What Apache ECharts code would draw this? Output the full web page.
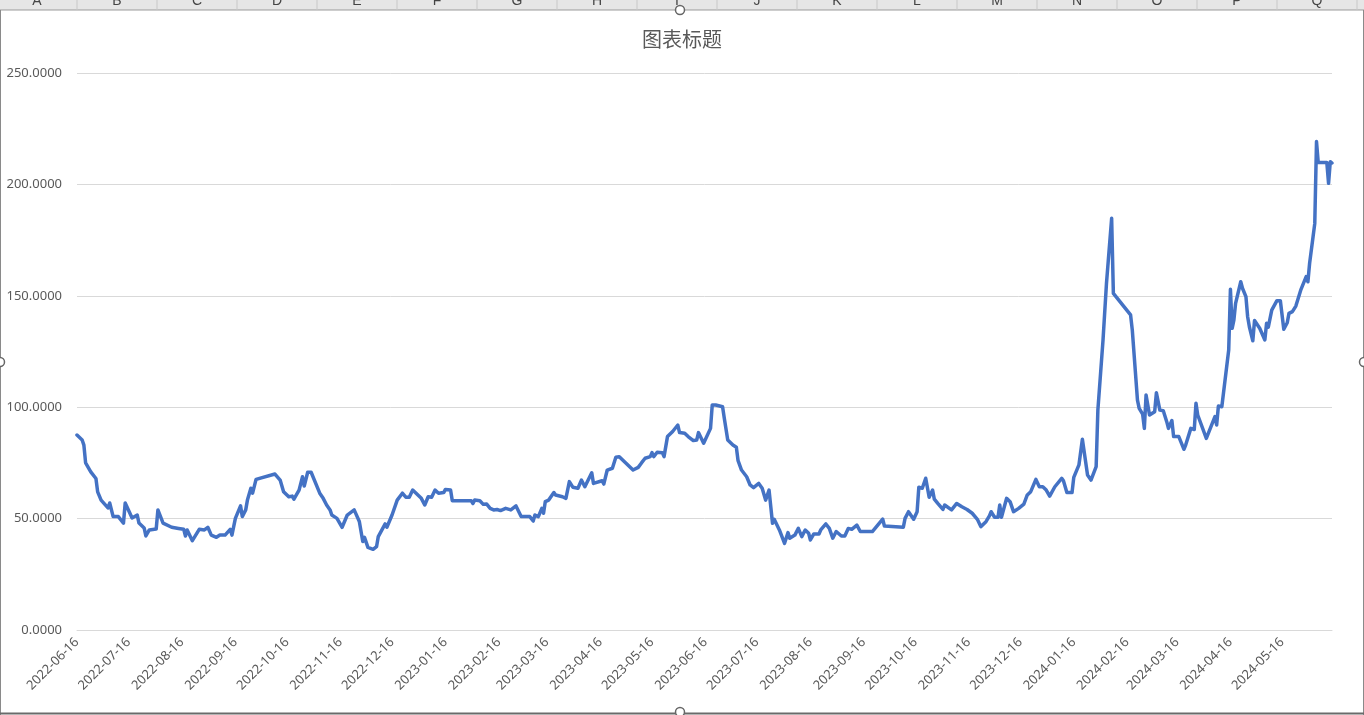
<!DOCTYPE html>
<html>
<head>
<meta charset="utf-8">
<script src="https://cdn.jsdelivr.net/npm/echarts@6/dist/echarts.min.js"></script>
<style>
html,body{margin:0;padding:0;background:#fff;}
#chart{width:1364px;height:715px;}
</style>
</head>
<body>
<div id="chart"></div>
<script>
// ---- data ----
const startDate = '2022-06-16';
// trading-day positions, counted in days from startDate
const dayOffsets = [0,3,4,5,8,11,12,14,18,19,21,24,27,28,32,35,36,39,40,42,46,47,50,55,59,62,63,64,67,71,74,76,78,81,83,86,89,90,92,95,96,98,99,101,102,104,115,118,120,123,125,126,129,131,132,134,136,141,143,145,147,148,151,154,157,161,164,166,167,169,172,174,175,179,180,183,186,189,191,193,195,200,202,204,206,208,210,213,214,217,218,229,230,231,234,236,238,240,242,244,246,249,252,255,258,263,265,266,268,270,271,272,274,277,278,282,284,286,288,291,293,295,299,300,305,306,308,311,313,315,323,326,328,330,333,334,335,337,340,341,343,346,349,350,353,355,358,360,361,364,365,368,369,371,375,376,378,381,383,384,386,389,391,393,396,398,400,402,404,405,408,411,413,414,417,419,421,423,425,426,428,431,432,435,437,439,441,444,446,448,450,453,455,462,468,469,480,481,483,486,488,489,491,493,495,497,498,500,503,504,508,511,514,517,520,523,525,528,530,531,533,535,536,537,540,542,544,547,550,552,554,557,559,561,563,565,568,572,573,575,578,579,582,584,585,587,589,592,593,596,598,599,600,601,602,612,613,616,617,619,620,621,623,626,627,629,631,633,634,636,637,640,643,644,647,649,650,651,656,661,662,663,665,669,670,671,672,673,676,677,679,680,681,683,684,687,690,691,692,694,697,699,701,703,704,706,708,711,714,715,716,718,719,720,721,726,727,728,729];
const seriesValues = [87.5,85.3,83,75,71,68,62,58.3,54.8,57,50.9,50.9,48,57,50.3,51.6,48,45.8,42.2,44.9,45.3,53.9,48,46.1,45.6,45.2,42.2,44.9,40.1,45.2,44.9,46.1,42.6,41.6,42.6,42.6,45.2,42.6,50.1,55.7,50.9,53.9,58.3,63.6,61.4,67.6,70,67.3,62.1,59.8,60.1,58.7,62.8,68.8,64.6,70.8,70.8,61.4,59.1,56.1,53.9,51.6,50.1,46.1,51.6,53.9,48.7,39.7,41.6,37.1,36.2,37.4,41.9,47.6,46.1,51.6,58.3,61.4,59.6,59.6,62.8,59.1,56.1,59.8,59.6,62.8,61.4,61.7,63.1,62.8,58,58,56.8,58.3,58,56.4,56.5,54.6,53.9,54.1,53.6,54.6,53.9,55.7,50.9,50.9,48.9,51.6,50.9,54.6,52.4,57.6,58.3,61.7,60.6,59.8,59.1,66.6,64.1,63.6,67.3,64.3,70.6,65.8,67,65.5,71.8,72.6,77.5,77.8,71.8,73,75.1,77.1,77.8,79.6,77.8,79.8,79.6,77.8,86.8,89.1,92,88.6,88.3,86.8,85,85.3,88.6,83.8,83.8,90.5,101,101,100.2,95,85.3,83,82,76,71.8,68.8,65.1,63.9,65.8,63.6,58.3,62.8,47.9,49.7,44.9,38.9,43.7,41.2,42.6,45.6,41.9,44.9,43.4,40.4,43.1,43.1,44.9,47.6,45.6,41.2,44.2,42.2,42.2,45.6,45.2,47.1,44.2,44.2,49.8,46.7,46.1,50.1,53.1,49.7,53.1,64.1,63.6,68.1,59.6,62.8,58.7,56.8,54.1,56.1,53.9,56.8,55.3,54.1,52.4,49.7,46.4,48.6,51.2,53.1,50.6,50.6,56.1,50.6,59.1,57.6,53.1,54.6,56.5,60.6,62.1,67.6,64.3,64.3,62.8,60.1,64.3,68.1,67,61.7,61.7,68.5,74.1,85.6,85,69.6,67.3,73.3,98.7,130.2,155.6,165.3,166.1,184.8,151.1,141.4,134.6,103.2,99.5,96.9,90.5,105.5,96.5,98,106.5,98.7,98.4,93.5,90.5,94,86.8,86.8,81.1,83,90.5,90,101.8,96.5,86,95.8,92,100.5,100.2,125.7,152.9,135.4,139.1,146.6,156.3,153.4,149.6,140.6,136.1,129.8,138.9,135.4,130.2,137.7,135.9,143.6,147.8,147.8,135,137.9,142.1,142.9,145.4,152.9,158.6,156.3,164.6,176.5,182.5,219.2,209.8,209.8,200.5,210.2,209.6];
const xTickLabels = ['2022-06-16','2022-07-16','2022-08-16','2022-09-16','2022-10-16','2022-11-16','2022-12-16','2023-01-16','2023-02-16','2023-03-16','2023-04-16','2023-05-16','2023-06-16','2023-07-16','2023-08-16','2023-09-16','2023-10-16','2023-11-16','2023-12-16','2024-01-16','2024-02-16','2024-03-16','2024-04-16','2024-05-16'];
const yTicks = [0, 50, 100, 150, 200, 250];
const titleText = '图表标题';
const columnLetters = ['A','B','C','D','E','F','G','H','I','J','K','L','M','N','O','P','Q'];

// ---- helpers ----
function parseLocal(s) { const p = s.split('-').map(Number); return new Date(p[0], p[1] - 1, p[2]); }
const start = parseLocal(startDate);
function dayToTime(d) { return new Date(start.getFullYear(), start.getMonth(), start.getDate() + d).getTime(); }
const points = dayOffsets.map((d, i) => [dayToTime(d), seriesValues[i]]);
const tickTimes = xTickLabels.map(s => parseLocal(s).getTime());
function labelFor(v) {
  let best = '', bd = Infinity;
  tickTimes.forEach((t, i) => { const dd = Math.abs(t - v); if (dd < bd) { bd = dd; best = xTickLabels[i]; } });
  return bd < 43200000 ? best : '';
}

const textColor = '#595959';
const baseFont = '"Noto Sans", "Open Sans", sans-serif';

// spreadsheet header + frame decorations
const graphics = [
  { type: 'rect', shape: { x: 0, y: 0, width: 1364, height: 10 }, style: { fill: '#e6e6e6' }, silent: true },
  { type: 'line', shape: { x1: 0, y1: 10, x2: 1364, y2: 10 }, style: { stroke: '#9b9b9b', lineWidth: 1 }, silent: true }
];
columnLetters.forEach((c, i) => {
  graphics.push({ type: 'line', shape: { x1: 77 + i * 80, y1: 0, x2: 77 + i * 80, y2: 10 }, style: { stroke: '#c8c8c8', lineWidth: 1 }, silent: true });
  graphics.push({ type: 'text', x: 37 + i * 80, y: -6, style: { text: c, fill: '#444', font: '14px "Liberation Sans", sans-serif', align: 'center', verticalAlign: 'top' }, silent: true });
});
graphics.push(
  { type: 'line', shape: { x1: 0.5, y1: 10, x2: 0.5, y2: 715 }, style: { stroke: '#8a8a8a', lineWidth: 1 }, silent: true },
  { type: 'line', shape: { x1: 1363.5, y1: 10, x2: 1363.5, y2: 715 }, style: { stroke: '#8a8a8a', lineWidth: 1 }, silent: true },
  { type: 'line', shape: { x1: 0, y1: 713.5, x2: 1364, y2: 713.5 }, style: { stroke: '#6a6a6a', lineWidth: 2 }, silent: true }
);
[[680, 10], [0, 362], [1364, 362], [680, 712]].forEach(p => {
  graphics.push({ type: 'circle', shape: { cx: p[0], cy: p[1], r: 4.5 }, style: { fill: '#fff', stroke: '#666', lineWidth: 1.5 }, silent: true, z: 100 });
});

const chart = echarts.init(document.getElementById('chart'), null, { renderer: 'canvas' });
chart.setOption({
  animation: false,
  backgroundColor: '#ffffff',
  title: {
    text: titleText,
    left: 'center',
    top: 24,
    textStyle: { color: textColor, fontSize: 20, fontWeight: 'normal', fontFamily: '"Noto Sans CJK SC", sans-serif' }
  },
  grid: { left: 77, right: 32, top: 73, bottom: 85, containLabel: false },
  xAxis: {
    type: 'value',
    min: dayToTime(0),
    max: dayToTime(dayOffsets[dayOffsets.length - 1]),
    axisLine: { show: true, lineStyle: { color: '#d9d9d9', width: 1 } },
    axisTick: { show: false },
    splitLine: { show: false },
    axisLabel: {
      customValues: tickTimes,
      rotate: 45,
      margin: 10,
      color: textColor,
      fontSize: 13,
      fontFamily: baseFont,
      formatter: function (v) { return labelFor(v); }
    }
  },
  yAxis: {
    type: 'value',
    min: yTicks[0],
    max: yTicks[yTicks.length - 1],
    interval: yTicks[1] - yTicks[0],
    axisLine: { show: false },
    axisTick: { show: false },
    splitLine: { show: true, lineStyle: { color: '#d9d9d9', width: 1 } },
    axisLabel: {
      color: textColor,
      fontSize: 13,
      fontFamily: baseFont,
      margin: 15,
      formatter: function (v) { return v.toFixed(4); }
    }
  },
  series: [{
    type: 'line',
    data: points,
    showSymbol: false,
    symbol: 'none',
    smooth: false,
    lineStyle: { color: '#4472C4', width: 3.5, join: 'round', cap: 'round' },
    itemStyle: { color: '#4472C4' }
  }],
  graphic: graphics
});
</script>
</body>
</html>
